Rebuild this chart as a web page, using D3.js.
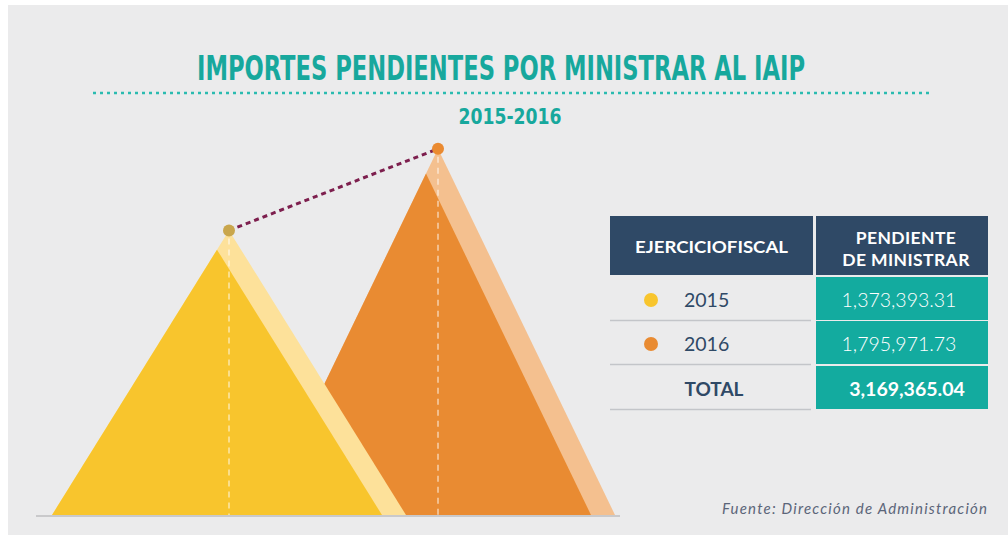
<!DOCTYPE html>
<html>
<head>
<meta charset="utf-8">
<title>Importes pendientes</title>
<style>
  html, body { margin: 0; padding: 0; background: #fff; }
  svg { display: block; }
</style>
</head>
<body>
<svg id="svg" width="1008" height="540"></svg>
<script src="https://cdn.jsdelivr.net/npm/d3@7/dist/d3.min.js"></script>
<script>
// datos
var years = ['2015', '2016'];
var values = [1373393.31, 1795971.73];
var totalLabel = 'TOTAL';
var totalValue = 3169365.04;
var mainColors = ['#f8c52d', '#e98b32'];
var lightColors = ['#fde19a', '#f4c08f'];
var dotColors = ['#c9a64c', '#ea8a30'];

var svg = d3.select('#svg');
var fmt = d3.format(',.2f');

// fondo
svg.append('rect').attr('x', 8).attr('y', 5).attr('width', 1000).attr('height', 530).attr('fill', '#ebebec');

// titulo
svg.append('text')
  .attr('x', 501).attr('y', 80)
  .attr('text-anchor', 'middle')
  .attr('font-family', '"Liberation Sans Narrow", "DejaVu Sans Condensed", "Roboto", sans-serif')
  .attr('font-weight', 'bold').attr('font-size', 34)
  .attr('textLength', 608).attr('lengthAdjust', 'spacingAndGlyphs')
  .attr('fill', '#17a89d')
  .text('IMPORTES PENDIENTES POR MINISTRAR AL IAIP');

svg.append('line')
  .attr('x1', 93).attr('x2', 930).attr('y1', 93).attr('y2', 93)
  .attr('stroke', '#2bbbb0').attr('stroke-width', 2.5)
  .attr('stroke-dasharray', '3 4');

svg.append('text')
  .attr('x', 510).attr('y', 124)
  .attr('text-anchor', 'middle')
  .attr('font-family', '"Liberation Sans Narrow", "DejaVu Sans Condensed", sans-serif')
  .attr('font-weight', 'bold').attr('font-size', 21)
  .attr('textLength', 103).attr('lengthAdjust', 'spacingAndGlyphs')
  .attr('fill', '#17a89d')
  .text(years[0] + '-' + years[1]);

// escalas
var x = d3.scalePoint().domain(years).range([229, 438]);
var y = d3.scaleLinear().domain([-100000, 1800000]).range([515, 148]);
var base = 515;
var half = 177;   // media base del triangulo
var band = 24;    // ancho de la franja clara

var data = years.map(function (yr, i) {
  return { year: yr, value: values[i], i: i };
});

function lightPath(d) {
  var cx = x(d.year), ay = y(d.value);
  return 'M' + (cx - half) + ',' + base + 'L' + cx + ',' + ay + 'L' + (cx + half) + ',' + base + 'Z';
}
function darkPath(d) {
  var cx = x(d.year), ay = y(d.value);
  var t = 1 - band / (2 * half);
  var px = cx - half + t * half, py = base - t * (base - ay);
  return 'M' + (cx - half) + ',' + base + 'L' + px + ',' + py + 'L' + (cx + half - band) + ',' + base + 'Z';
}

// orden: 2016 detras, 2015 delante
var g = svg.selectAll('g.mount')
  .data(data.slice().reverse())
  .enter().append('g').attr('class', 'mount');

g.append('path').attr('d', lightPath).attr('fill', function (d) { return lightColors[d.i]; });
g.append('path').attr('d', darkPath).attr('fill', function (d) { return mainColors[d.i]; });
g.append('line')
  .attr('x1', function (d) { return x(d.year); })
  .attr('x2', function (d) { return x(d.year); })
  .attr('y1', function (d) { return y(d.value) + 8; })
  .attr('y2', base)
  .attr('stroke', '#ffffff').attr('stroke-opacity', 0.6)
  .attr('stroke-width', 1.5).attr('stroke-dasharray', '6 5');

// linea base
svg.append('line')
  .attr('x1', 36).attr('x2', 620).attr('y1', base + 1).attr('y2', base + 1)
  .attr('stroke', '#c9c9cb').attr('stroke-width', 2);

// linea punteada entre cimas
svg.append('line')
  .attr('x1', x(years[0])).attr('y1', y(values[0]))
  .attr('x2', x(years[1])).attr('y2', y(values[1]))
  .attr('stroke', '#7d1f4e').attr('stroke-width', 3)
  .attr('stroke-dasharray', '5 4');

svg.selectAll('circle.peak')
  .data(data).enter().append('circle')
  .attr('class', 'peak')
  .attr('cx', function (d) { return x(d.year); })
  .attr('cy', function (d) { return y(d.value); })
  .attr('r', 6)
  .attr('fill', function (d) { return dotColors[d.i]; });

// tabla
var tf = 'Lato, "Open Sans", sans-serif';
var navy = '#2f4966';
var teal = '#13ab9f';
var colL = [610, 813], colR = [816, 988];
var rowTop = [277, 321, 366];
var rowH = 43;

svg.append('rect').attr('x', colL[0]).attr('y', 216).attr('width', colL[1] - colL[0]).attr('height', 59).attr('fill', navy);
svg.append('rect').attr('x', colR[0]).attr('y', 216).attr('width', colR[1] - colR[0]).attr('height', 59).attr('fill', navy);

svg.append('text')
  .attr('x', (colL[0] + colL[1]) / 2).attr('y', 253)
  .attr('text-anchor', 'middle').attr('font-family', tf).attr('font-weight', 'bold')
  .attr('font-size', 17.5).attr('fill', '#fff')
  .attr('textLength', 153).attr('lengthAdjust', 'spacingAndGlyphs')
  .text('EJERCICIOFISCAL');

var hd = svg.append('text')
  .attr('text-anchor', 'middle').attr('font-family', tf).attr('font-weight', 'bold')
  .attr('font-size', 17.5).attr('fill', '#fff').attr('letter-spacing', 0.4);
hd.append('tspan').attr('x', 906).attr('y', 244).text('PENDIENTE');
hd.append('tspan').attr('x', 906).attr('y', 266).text('DE MINISTRAR');

var rows = data.map(function (d) {
  return { label: d.year, value: fmt(d.value), color: mainColors[d.i], bold: false };
});
rows.push({ label: totalLabel, value: fmt(totalValue), color: null, bold: true });

var r = svg.selectAll('g.row').data(rows).enter().append('g').attr('class', 'row');

r.append('rect')
  .attr('x', colR[0]).attr('y', function (d, i) { return rowTop[i]; })
  .attr('width', colR[1] - colR[0]).attr('height', rowH)
  .attr('fill', teal);

r.append('line')
  .attr('x1', colL[0]).attr('x2', colL[1] - 2)
  .attr('y1', function (d, i) { return rowTop[i] + rowH + 0.5; })
  .attr('y2', function (d, i) { return rowTop[i] + rowH + 0.5; })
  .attr('stroke', '#c3c5c9').attr('stroke-width', 1.5);

r.filter(function (d) { return d.color; }).append('circle')
  .attr('cx', 651).attr('cy', function (d, i) { return rowTop[i] + 23; })
  .attr('r', 7).attr('fill', function (d) { return d.color; });

r.append('text')
  .attr('x', function (d) { return d.bold ? 714 : 684; })
  .attr('y', function (d, i) { return rowTop[i] + 30; })
  .attr('text-anchor', function (d) { return d.bold ? 'middle' : 'start'; })
  .attr('font-family', tf)
  .attr('font-weight', function (d) { return d.bold ? 'bold' : 'normal'; })
  .attr('font-size', function (d) { return d.bold ? 19 : 19.5; })
  .attr('fill', navy)
  .text(function (d) { return d.label; });

r.append('text')
  .attr('x', function (d) { return d.bold ? 907 : 899; })
  .attr('y', function (d, i) { return rowTop[i] + 30; })
  .attr('text-anchor', 'middle')
  .attr('font-family', tf)
  .attr('font-weight', function (d) { return d.bold ? 'bold' : 300; })
  .attr('font-size', 19.5)
  .attr('fill', '#fff')
  .text(function (d) { return d.value; });

// fuente
svg.append('text')
  .attr('x', 987).attr('y', 514)
  .attr('text-anchor', 'end')
  .attr('font-family', tf).attr('font-style', 'italic')
  .attr('font-size', 15).attr('fill', '#5b6579')
  .attr('textLength', 265).attr('lengthAdjust', 'spacing')
  .text('Fuente: Dirección de Administración');
</script>
</body>
</html>
